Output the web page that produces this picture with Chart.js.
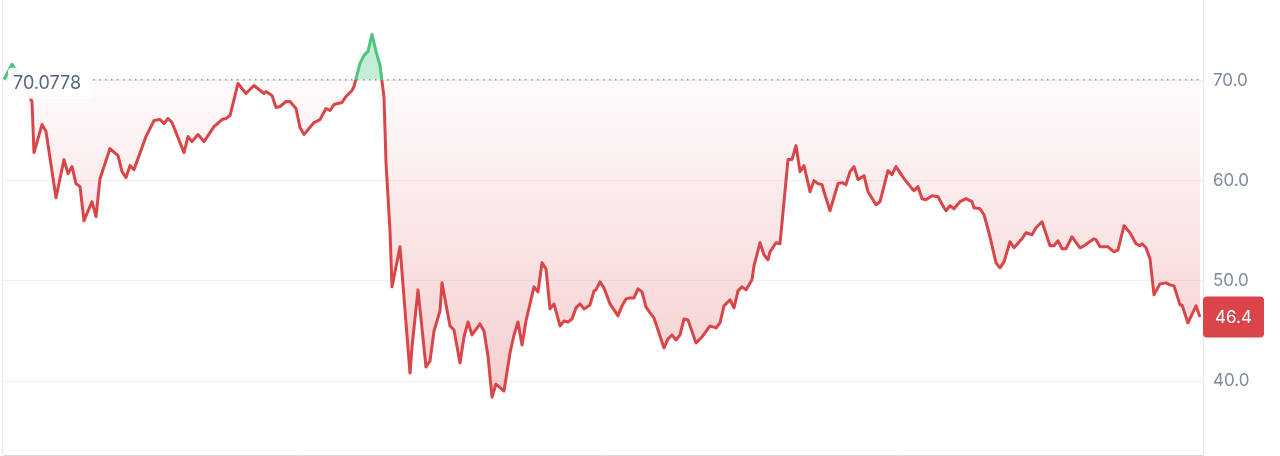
<!DOCTYPE html>
<html lang="en">
<head>
<meta charset="UTF-8" />
<title>Price chart</title>
<style>
  html, body { margin: 0; padding: 0; background: #fff; }
  #wrap { position: relative; width: 1280px; height: 456px; }
</style>
</head>
<body>
<div id="wrap"><canvas id="chart"></canvas></div>

<script src="https://cdn.jsdelivr.net/npm/chart.js@4.4.1/dist/chart.umd.min.js"></script>
<script>
  // sample index (time steps) and price
  const t = [
    0, 4, 8, 11, 14, 15, 19, 21, 26, 30,
    32, 34, 36, 38, 40, 44, 46, 48, 53, 57,
    59, 61, 63, 65, 71, 75, 78, 80, 82, 84,
    90, 92, 94, 97, 100, 105, 109, 111, 113, 117,
    121, 125, 130, 131, 134, 136, 138, 141, 143, 146,
    148, 150, 155, 158, 161, 163, 165, 169, 171, 174,
    175, 178, 180, 182, 184, 186, 188, 190, 191, 193,
    194, 198, 203, 204, 207, 211, 213, 215, 218, 219,
    223, 225, 228, 230, 232, 234, 238, 240, 242, 244,
    246, 250, 253, 255, 257, 259, 261, 265, 267, 269,
    271, 273, 275, 278, 280, 282, 284, 286, 288, 290,
    293, 295, 296, 298, 300, 303, 307, 309, 311, 313,
    315, 317, 319, 321, 323, 325, 330, 332, 334, 336,
    338, 340, 342, 346, 349, 353, 356, 358, 360, 363,
    365, 367, 369, 371, 374, 375, 378, 380, 382, 383,
    386, 388, 392, 394, 396, 398, 400, 403, 405, 407,
    409, 410, 413, 417, 419, 421, 423, 425, 427, 430,
    432, 436, 438, 442, 444, 446, 450, 454, 455, 457,
    459, 461, 464, 467, 470, 471, 473, 475, 478, 481,
    484, 485, 488, 490, 493, 496, 498, 500, 503, 505,
    509, 511, 514, 516, 519, 523, 525, 527, 529, 531,
    534, 538, 540, 545, 546, 548, 552, 555, 557, 560,
    563, 566, 568, 569, 571, 573, 575, 578, 581, 583,
    585, 588, 589, 592, 596, 598
  ];
  const price = [
    70.1, 71.6, 70.4, 69.0, 67.9, 62.8, 65.6, 64.9, 58.3, 62.1,
    60.7, 61.4, 59.7, 59.4, 56.0, 57.9, 56.4, 60.2, 63.2, 62.5,
    60.9, 60.3, 61.5, 61.1, 64.4, 66.0, 66.1, 65.7, 66.2, 65.8,
    62.8, 64.4, 63.9, 64.6, 63.9, 65.4, 66.1, 66.2, 66.5, 69.7,
    68.7, 69.5, 68.7, 68.9, 68.5, 67.3, 67.4, 67.9, 67.9, 67.2,
    65.3, 64.6, 65.8, 66.1, 67.2, 67.0, 67.6, 67.8, 68.4, 69.0,
    69.4, 71.7, 72.5, 72.9, 74.6, 72.9, 71.5, 68.3, 61.8, 55.0,
    49.4, 53.4, 40.8, 43.4, 49.1, 41.4, 42.0, 45.0, 47.0, 49.8,
    45.5, 45.1, 41.8, 44.4, 45.9, 44.6, 45.7, 45.0, 42.5, 38.4,
    39.7, 39.0, 42.8, 44.6, 45.9, 43.6, 46.0, 49.4, 48.9, 51.8,
    51.2, 47.2, 47.7, 45.5, 46.0, 45.9, 46.2, 47.3, 47.7, 47.2,
    47.6, 49.0, 49.1, 49.9, 49.3, 47.7, 46.5, 47.5, 48.2, 48.3,
    48.3, 49.2, 48.9, 47.4, 46.8, 46.3, 43.3, 44.2, 44.6, 44.1,
    44.6, 46.2, 46.1, 43.8, 44.4, 45.5, 45.3, 45.8, 47.5, 48.1,
    47.3, 49.0, 49.4, 49.1, 50.1, 51.5, 53.8, 52.6, 52.1, 52.9,
    53.8, 53.7, 62.1, 62.1, 63.5, 60.9, 61.5, 58.9, 60.0, 59.7,
    59.6, 58.9, 57.0, 59.7, 59.8, 59.6, 60.9, 61.4, 60.1, 60.5,
    58.9, 57.6, 57.9, 61.0, 60.6, 61.4, 60.2, 59.2, 59.0, 59.4,
    58.2, 58.1, 58.5, 58.4, 57.3, 57.0, 57.5, 57.2, 57.9, 58.2,
    57.9, 57.3, 57.2, 56.6, 54.4, 51.8, 51.3, 51.9, 53.9, 53.3,
    54.2, 54.8, 54.6, 55.3, 55.9, 53.5, 53.5, 54.0, 53.2, 53.2,
    54.4, 53.3, 53.5, 54.2, 54.1, 53.4, 53.4, 52.9, 53.1, 55.5,
    54.8, 53.7, 53.5, 53.7, 53.3, 52.2, 48.6, 49.7, 49.8, 49.6,
    49.5, 47.6, 47.6, 45.8, 47.5, 46.4
  ];
  const yTicks = [40, 50, 60, 70];
  const openPrice = 70.0778;
  const openLabel = '70.0778';
  const lastPrice = 46.4;

  const red = 'rgb(217, 69, 72)';
  const green = 'rgb(78, 196, 128)';
  const font = 'Inter, "Noto Sans", sans-serif';

  // line colour switches at the opening price
  function splitStroke(chart) {
    const { ctx, chartArea, scales } = chart;
    if (!chartArea) return red;
    const y0 = scales.y.getPixelForValue(openPrice);
    let f = (y0 - chartArea.top) / (chartArea.bottom - chartArea.top);
    f = Math.min(Math.max(f, 0), 1);
    const g = ctx.createLinearGradient(0, chartArea.top, 0, chartArea.bottom);
    g.addColorStop(0, green);
    g.addColorStop(f, green);
    g.addColorStop(f, red);
    g.addColorStop(1, red);
    return g;
  }

  function belowFill(chart) {
    const { ctx, chartArea, scales } = chart;
    if (!chartArea) return 'rgba(217, 69, 72, 0.1)';
    const y0 = scales.y.getPixelForValue(openPrice);
    const g = ctx.createLinearGradient(0, y0, 0, chartArea.bottom);
    g.addColorStop(0, 'rgba(217, 69, 72, 0.02)');
    g.addColorStop(1, 'rgba(217, 69, 72, 0.31)');
    return g;
  }

  function roundRect(ctx, x, y, w, h, r) {
    ctx.beginPath();
    ctx.moveTo(x + r, y);
    ctx.arcTo(x + w, y, x + w, y + h, r);
    ctx.arcTo(x + w, y + h, x, y + h, r);
    ctx.arcTo(x, y + h, x, y, r);
    ctx.arcTo(x, y, x + w, y, r);
    ctx.closePath();
  }

  const overlay = {
    id: 'overlay',
    beforeDatasetsDraw(chart) {
      const { ctx, chartArea, scales } = chart;
      const y0 = scales.y.getPixelForValue(openPrice);
      ctx.save();
      // left frame line
      ctx.strokeStyle = '#ececee';
      ctx.lineWidth = 1;
      ctx.beginPath();
      ctx.moveTo(chartArea.left - 0.5, 0);
      ctx.lineTo(chartArea.left - 0.5, chartArea.bottom);
      ctx.stroke();
      // dotted opening price line
      ctx.strokeStyle = '#8e96a4';
      ctx.lineWidth = 1.5;
      ctx.setLineDash([1.5, 4.5]);
      ctx.beginPath();
      ctx.moveTo(chartArea.left + 90, y0);
      ctx.lineTo(chartArea.right, y0);
      ctx.stroke();
      ctx.restore();
    },
    afterDatasetsDraw(chart) {
      const { ctx, chartArea, scales } = chart;
      const y0 = scales.y.getPixelForValue(openPrice);
      ctx.save();
      ctx.fillStyle = 'rgba(255, 255, 255, 0.93)';
      roundRect(ctx, chartArea.left + 5, y0 - 12, 85, 31, 4);
      ctx.fill();
      ctx.fillStyle = '#58667e';
      ctx.font = '18px ' + font;
      ctx.textBaseline = 'middle';
      ctx.textAlign = 'left';
      ctx.fillText(openLabel, chartArea.left + 10, y0 + 3.5);
      ctx.restore();
    },
    afterDraw(chart) {
      const { ctx, chartArea, scales } = chart;
      const y1 = scales.y.getPixelForValue(lastPrice);
      ctx.save();
      ctx.fillStyle = red;
      roundRect(ctx, chartArea.right, y1 - 20.5, 61, 41, 4);
      ctx.fill();
      ctx.fillStyle = '#ffffff';
      ctx.font = '17px ' + font;
      ctx.textBaseline = 'middle';
      ctx.textAlign = 'center';
      ctx.fillText(lastPrice.toFixed(1), chartArea.right + 30.5, y1 + 0.5);
      ctx.restore();
    }
  };

  new Chart(document.getElementById('chart'), {
    type: 'line',
    data: {
      datasets: [{
        data: t.map((x, i) => ({ x: x, y: price[i] })),
        borderColor: c => splitStroke(c.chart),
        borderWidth: 3,
        pointRadius: 0,
        tension: 0,
        borderJoinStyle: 'round',
        fill: c => ({
          target: { value: openPrice },
          above: 'rgba(78, 196, 128, 0.33)',
          below: belowFill(c.chart)
        })
      }]
    },
    options: {
      responsive: true,
      maintainAspectRatio: false,
      animation: false,
      events: [],
      layout: { padding: { left: 3, top: 0, right: 0, bottom: 1 } },
      plugins: {
        legend: { display: false },
        tooltip: { enabled: false }
      },
      scales: {
        x: {
          type: 'linear',
          min: -0.5,
          max: 599.5,
          afterFit: axis => { axis.height = 0; axis.paddingLeft = 0; axis.paddingRight = 0; },
          ticks: { display: false },
          grid: { display: false, drawTicks: false },
          border: { display: true, color: '#d6d9de' }
        },
        y: {
          position: 'right',
          min: 32.62,
          max: 78.03,
          afterBuildTicks: axis => { axis.ticks = yTicks.map(v => ({ value: v })); },
          afterFit: axis => { axis.width = 77; axis.paddingTop = 0; axis.paddingBottom = 0; },
          ticks: {
            padding: 10,
            color: '#808a9d',
            font: { family: font, size: 17 },
            callback: v => v.toFixed(1)
          },
          grid: { color: '#eeeff1', drawTicks: false },
          border: { display: true, color: '#e9eaed' }
        }
      }
    },
    plugins: [overlay]
  });
</script>
</body>
</html>
